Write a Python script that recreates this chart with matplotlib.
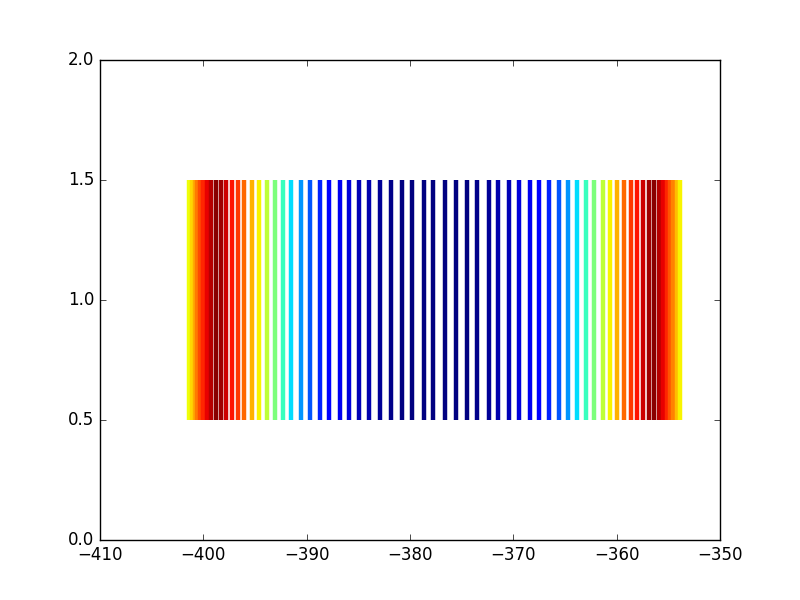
import matplotlib
matplotlib.use("Agg")
import matplotlib.pyplot as plt
import numpy as np

plt.style.use("classic")

# x positions of the vertical lines (left to right)
positions = [
    -401.34, -401.10, -400.84, -400.59, -400.32, -400.03, -399.67, -399.23,
    -398.75, -398.29, -397.78, -397.23, -396.62, -396.02, -395.29, -394.58,
    -393.84, -393.06, -392.29, -391.47, -390.55, -389.68, -388.71, -387.84,
    -386.77, -385.90, -384.89, -383.92, -382.90, -381.84, -380.82, -379.81,
    -378.69, -377.73,
    -376.63, -375.57, -374.50, -373.47, -372.40, -371.44, -370.42, -369.45,
    -368.41, -367.52, -366.50, -365.62, -364.71, -363.84, -362.97, -362.24,
    -361.36, -360.69, -359.97, -359.29, -358.61, -358.03, -357.45, -356.90,
    -356.39, -355.90, -355.52, -355.16, -354.84, -354.55, -354.19, -353.90,
]

# colour value of each line on the jet colormap (0..1)
color_values = [
    0.64, 0.68, 0.73, 0.78, 0.83, 0.87, 0.91, 0.95,
    0.99, 0.97, 0.93, 0.89, 0.85, 0.80, 0.72, 0.65,
    0.58, 0.50, 0.42, 0.34, 0.27, 0.21, 0.16, 0.12,
    0.10, 0.08, 0.05, 0.04, 0.02, 0.01, 0.00, 0.00,
    0.00, 0.00,
    0.00, 0.00, 0.00, 0.01, 0.02, 0.04, 0.05, 0.08,
    0.10, 0.12, 0.16, 0.21, 0.27, 0.34, 0.42, 0.50,
    0.58, 0.65, 0.72, 0.80, 0.85, 0.89, 0.93, 0.97,
    0.99, 0.95, 0.91, 0.87, 0.82, 0.77, 0.71, 0.65,
]

y_low, y_high = 0.5, 1.5

fig, ax = plt.subplots(figsize=(8, 6), dpi=100)
colors = plt.cm.jet(np.array(color_values))
ax.vlines(positions, y_low, y_high, colors=colors, linewidth=3.2)

ax.set_xlim(-410, -350)
ax.set_ylim(0, 2)
ax.set_xticks(np.arange(-410, -349, 10))
ax.set_yticks(np.arange(0, 2.01, 0.5))

fig.savefig("out.png", dpi=100, facecolor="white")
